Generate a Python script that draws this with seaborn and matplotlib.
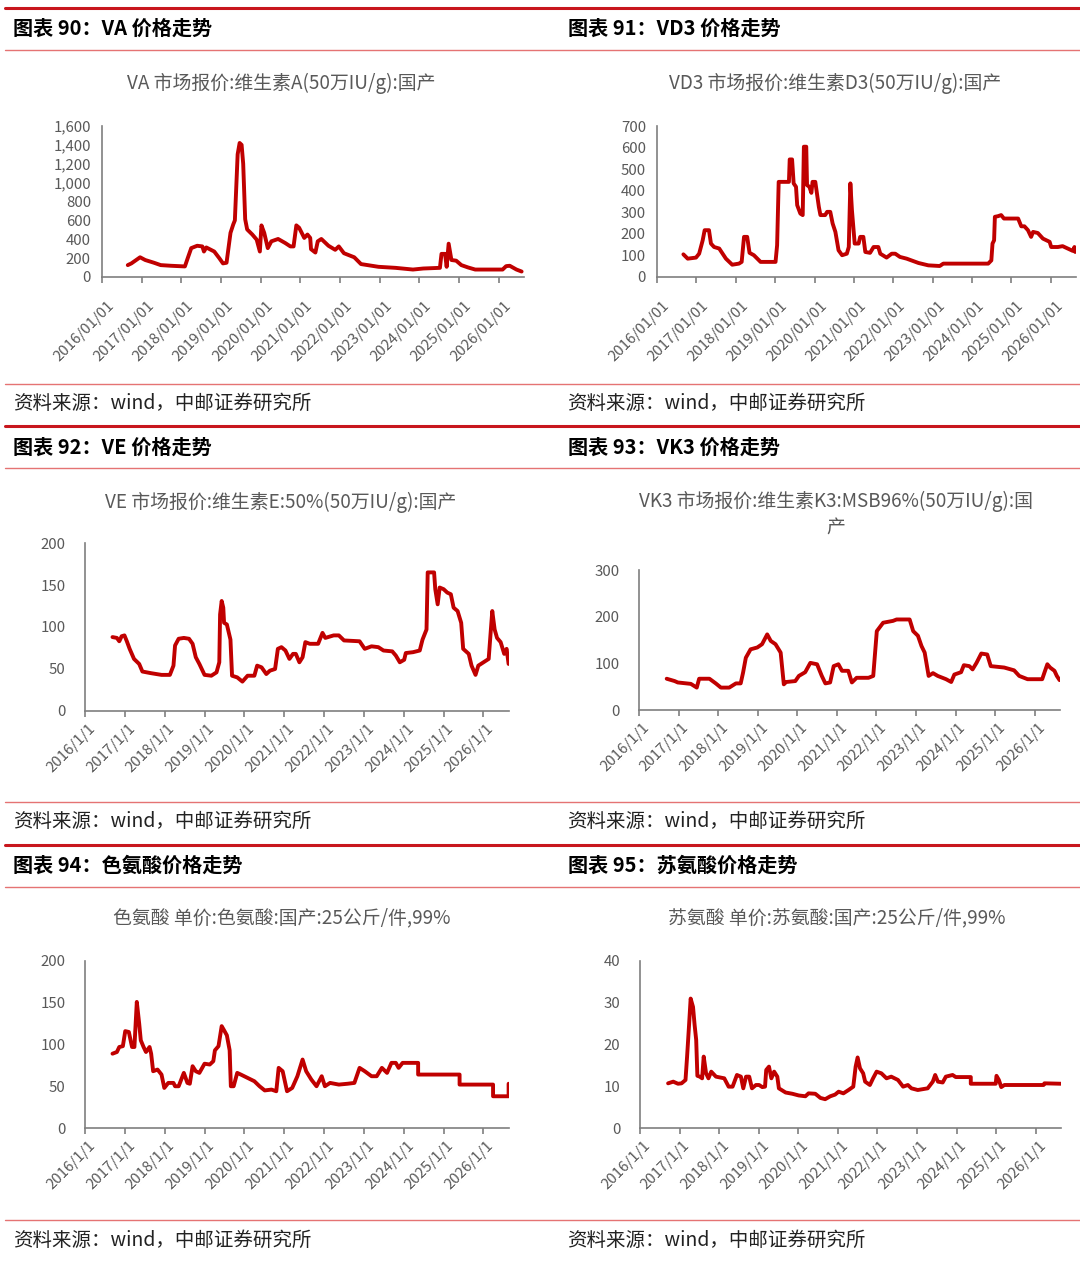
import numpy as np
import pandas as pd
import seaborn as sns
import matplotlib.pyplot as plt
import matplotlib.transforms as mtransforms
from matplotlib.lines import Line2D

sns.set_theme(style='white')
plt.rcParams['font.family'] = ['Noto Sans CJK SC', 'DejaVu Sans']
plt.rcParams['axes.unicode_minus'] = False

W, H = 1080, 1270
RED = '#C00000'
GREY = '#595959'
AXGREY = '#7F7F7F'

# ---- data (x in decimal years) ----
va_x = [2016.65, 2016.74, 2016.96, 2017.09, 2017.31, 2017.48, 2017.74, 2018.09, 2018.16, 2018.25,
        2018.40, 2018.53, 2018.57, 2018.63, 2018.83, 2018.96, 2019.05, 2019.14, 2019.24, 2019.31,
        2019.35, 2019.42, 2019.47, 2019.52, 2019.56, 2019.61, 2019.66, 2019.79, 2019.90, 2019.98,
        2020.02, 2020.09, 2020.18, 2020.27, 2020.44, 2020.62, 2020.75, 2020.83, 2020.90, 2020.97,
        2021.10, 2021.18, 2021.25, 2021.27, 2021.38, 2021.44, 2021.53, 2021.71, 2021.88, 2021.97,
        2022.10, 2022.36, 2022.53, 2022.97, 2023.40, 2023.84, 2024.10, 2024.52, 2024.56, 2024.65,
        2024.69, 2024.74, 2024.81, 2024.93, 2025.06, 2025.23, 2025.41, 2026.10, 2026.19, 2026.28,
        2026.45, 2026.58]
va_y = [126, 144, 209, 180, 151, 126, 119, 112, 198, 306,
        331, 324, 270, 313, 270, 198, 144, 151, 468, 558,
        600, 1300, 1420, 1400, 1200, 612, 504, 450, 396, 270,
        547, 468, 306, 378, 403, 360, 324, 324, 547, 522,
        414, 450, 414, 295, 259, 378, 403, 331, 288, 324,
        252, 209, 137, 108, 97, 79, 90, 97, 245, 245,
        108, 353, 180, 173, 126, 101, 79, 79, 115, 119,
        79, 58]

vd3_x = [2016.67, 2016.78, 2016.99, 2017.07, 2017.16, 2017.21, 2017.32, 2017.37, 2017.45, 2017.58,
         2017.75, 2017.91, 2018.08, 2018.15, 2018.21, 2018.29, 2018.35, 2018.46, 2018.63, 2019.01,
         2019.05, 2019.09, 2019.35, 2019.37, 2019.43, 2019.47, 2019.53, 2019.56, 2019.64, 2019.70,
         2019.73, 2019.79, 2019.81, 2019.87, 2019.92, 2019.95, 2020.02, 2020.11, 2020.15, 2020.27,
         2020.32, 2020.40, 2020.46, 2020.53, 2020.61, 2020.70, 2020.82, 2020.87, 2020.91, 2020.95,
         2021.02, 2021.12, 2021.16, 2021.24, 2021.29, 2021.41, 2021.50, 2021.62, 2021.67, 2021.83,
         2021.96, 2022.05, 2022.17, 2022.34, 2022.64, 2022.89, 2023.18, 2023.27, 2023.65, 2024.41,
         2024.49, 2024.52, 2024.56, 2024.58, 2024.66, 2024.74, 2024.81, 2025.17, 2025.25, 2025.33,
         2025.42, 2025.50, 2025.55, 2025.67, 2025.80, 2025.97, 2026.01, 2026.18, 2026.30, 2026.43,
         2026.56, 2026.60, 2026.62]
vd3_y = [105, 85, 90, 108, 170, 217, 217, 155, 139, 132,
         85, 57, 62, 70, 186, 186, 112, 101, 70, 70,
         147, 441, 441, 545, 545, 434, 418, 333, 294, 287,
         604, 604, 426, 418, 390, 441, 441, 325, 287, 287,
         302, 302, 248, 209, 124, 101, 108, 139, 434, 310,
         155, 155, 186, 186, 116, 112, 139, 139, 108, 90,
         108, 108, 93, 85, 65, 54, 51, 62, 62, 62,
         77, 155, 170, 279, 282, 287, 271, 271, 235, 235,
         217, 186, 209, 204, 178, 163, 139, 139, 143, 132,
         121, 139, 116]

ve_x = [2016.69, 2016.80, 2016.86, 2016.92, 2016.99, 2017.05, 2017.12, 2017.23, 2017.36, 2017.44,
        2017.66, 2017.92, 2018.13, 2018.22, 2018.26, 2018.35, 2018.48, 2018.61, 2018.70, 2018.78,
        2018.87, 2019.00, 2019.17, 2019.30, 2019.37, 2019.39, 2019.43, 2019.47, 2019.49, 2019.56,
        2019.65, 2019.69, 2019.82, 2019.95, 2020.08, 2020.25, 2020.32, 2020.43, 2020.55, 2020.64,
        2020.77, 2020.84, 2020.93, 2021.03, 2021.13, 2021.22, 2021.29, 2021.38, 2021.46, 2021.53,
        2021.64, 2021.85, 2021.96, 2022.03, 2022.24, 2022.37, 2022.50, 2022.89, 2023.02, 2023.19,
        2023.36, 2023.49, 2023.71, 2023.80, 2023.90, 2024.01, 2024.05, 2024.23, 2024.40, 2024.47,
        2024.57, 2024.60, 2024.76, 2024.79, 2024.85, 2024.90, 2025.00, 2025.09, 2025.18, 2025.25,
        2025.35, 2025.44, 2025.49, 2025.63, 2025.70, 2025.80, 2025.87, 2026.00, 2026.13, 2026.22,
        2026.28, 2026.34, 2026.43, 2026.52, 2026.58, 2026.63]
ve_y = [88, 87, 83, 89, 90, 83, 74, 62, 56, 47,
        45, 43, 43, 54, 78, 86, 87, 86, 80, 64,
        56, 43, 42, 46, 58, 115, 131, 123, 105, 103,
        85, 42, 40, 35, 42, 42, 54, 52, 44, 48,
        50, 74, 76, 72, 62, 68, 68, 58, 64, 82,
        80, 80, 93, 87, 90, 90, 84, 83, 74, 77,
        76, 72, 71, 66, 58, 61, 69, 70, 72, 85,
        97, 165, 165, 145, 127, 147, 145, 141, 139, 123,
        119, 105, 74, 68, 54, 43, 54, 58, 62, 119,
        97, 87, 82, 68, 74, 56]

vk3_x = [2016.70, 2016.90, 2016.98, 2017.31, 2017.46, 2017.52, 2017.78, 2017.94, 2018.07, 2018.28,
         2018.45, 2018.57, 2018.63, 2018.70, 2018.82, 2018.99, 2019.11, 2019.24, 2019.33, 2019.45,
         2019.58, 2019.66, 2019.72, 2019.95, 2020.04, 2020.20, 2020.33, 2020.50, 2020.62, 2020.71,
         2020.83, 2020.92, 2021.04, 2021.13, 2021.29, 2021.38, 2021.50, 2021.80, 2021.92, 2022.01,
         2022.17, 2022.42, 2022.51, 2022.84, 2022.93, 2023.05, 2023.14, 2023.22, 2023.32, 2023.43,
         2023.55, 2023.76, 2023.89, 2023.97, 2024.14, 2024.21, 2024.35, 2024.43, 2024.53, 2024.65,
         2024.80, 2024.89, 2025.23, 2025.48, 2025.61, 2025.82, 2026.19, 2026.25, 2026.32, 2026.39,
         2026.50, 2026.56, 2026.63]
vk3_y = [67, 62, 59, 56, 48, 67, 67, 57, 48, 48,
         57, 57, 80, 112, 130, 134, 141, 162, 148, 141,
         123, 55, 60, 62, 73, 81, 101, 98, 73, 57,
         59, 94, 98, 84, 84, 59, 69, 69, 73, 169,
         187, 191, 194, 194, 169, 159, 137, 123, 73, 79,
         73, 66, 60, 76, 81, 96, 94, 87, 101, 121,
         119, 94, 91, 85, 73, 66, 66, 81, 98, 91,
         84, 73, 64]

trp_x = [2016.69, 2016.80, 2016.86, 2016.95, 2017.01, 2017.10, 2017.18, 2017.24, 2017.30, 2017.36,
         2017.40, 2017.47, 2017.53, 2017.62, 2017.66, 2017.71, 2017.82, 2017.92, 2017.99, 2018.09,
         2018.22, 2018.26, 2018.35, 2018.48, 2018.57, 2018.63, 2018.70, 2018.78, 2018.87, 2019.00,
         2019.13, 2019.22, 2019.26, 2019.35, 2019.43, 2019.49, 2019.56, 2019.63, 2019.66, 2019.73,
         2019.82, 2019.91, 2020.08, 2020.25, 2020.38, 2020.51, 2020.68, 2020.80, 2020.86, 2020.96,
         2021.07, 2021.20, 2021.33, 2021.46, 2021.55, 2021.68, 2021.81, 2021.94, 2022.02, 2022.15,
         2022.37, 2022.59, 2022.76, 2022.89, 2023.02, 2023.19, 2023.32, 2023.45, 2023.58, 2023.69,
         2023.80, 2023.87, 2023.97, 2024.36, 2024.36, 2025.40, 2025.40, 2026.24, 2026.24, 2026.63,
         2026.63]
trp_y = [89, 91, 97, 98, 116, 115, 97, 97, 151, 125,
         105, 97, 91, 97, 89, 68, 70, 64, 48, 54,
         54, 50, 50, 66, 54, 53, 74, 68, 66, 77,
         76, 80, 93, 98, 122, 117, 111, 93, 50, 50,
         66, 64, 60, 56, 50, 45, 46, 44, 72, 68,
         44, 48, 62, 82, 68, 58, 50, 62, 50, 54,
         52, 53, 54, 72, 68, 62, 62, 72, 66, 78,
         78, 72, 78, 78, 64, 64, 52, 52, 38, 38,
         53]

thr_x = [2016.71, 2016.84, 2016.96, 2017.05, 2017.15, 2017.19, 2017.24, 2017.28, 2017.34, 2017.38,
         2017.42, 2017.45, 2017.51, 2017.57, 2017.61, 2017.67, 2017.73, 2017.80, 2017.92, 2018.13,
         2018.24, 2018.34, 2018.45, 2018.55, 2018.61, 2018.68, 2018.76, 2018.83, 2018.93, 2019.01,
         2019.09, 2019.16, 2019.19, 2019.26, 2019.32, 2019.39, 2019.47, 2019.51, 2019.68, 2019.85,
         2020.01, 2020.18, 2020.26, 2020.43, 2020.56, 2020.68, 2020.81, 2020.93, 2021.02, 2021.14,
         2021.27, 2021.39, 2021.45, 2021.50, 2021.56, 2021.64, 2021.69, 2021.81, 2021.89, 2021.98,
         2022.10, 2022.23, 2022.35, 2022.52, 2022.65, 2022.77, 2022.86, 2023.02, 2023.27, 2023.40,
         2023.46, 2023.53, 2023.65, 2023.73, 2023.90, 2023.98, 2024.36, 2024.36, 2024.99, 2025.01,
         2025.07, 2025.13, 2025.21, 2026.20, 2026.22, 2026.64]
thr_y = [10.7, 11.1, 10.6, 10.7, 11.5, 17.1, 24.7, 31.0, 29.0, 24.7,
         21.1, 12.5, 12.3, 11.9, 17.1, 13.1, 11.9, 13.5, 12.3, 11.9,
         9.9, 9.9, 12.7, 12.3, 9.5, 12.3, 12.3, 9.5, 10.3, 10.3,
         9.8, 9.9, 13.9, 14.7, 11.9, 13.5, 12.3, 9.5, 8.5, 8.2,
         7.8, 7.6, 8.3, 8.2, 7.2, 6.9, 7.6, 8.0, 8.7, 8.3,
         9.1, 9.9, 14.7, 16.9, 14.3, 13.1, 11.1, 10.3, 11.9, 13.5,
         13.1, 11.9, 12.3, 11.5, 9.9, 10.3, 9.5, 9.1, 9.5, 11.1,
         12.7, 11.1, 10.9, 12.3, 12.7, 12.2, 12.2, 10.6, 10.6, 12.5,
         11.5, 9.8, 10.3, 10.3, 10.7, 10.6]

years = list(range(2016, 2027))
xlab_long = [f'{y}/01/01' for y in years]
xlab_short = [f'{y}/1/1' for y in years]

headers = ['图表 90：VA 价格走势', '图表 91：VD3 价格走势',
           '图表 92：VE 价格走势', '图表 93：VK3 价格走势',
           '图表 94：色氨酸价格走势', '图表 95：苏氨酸价格走势']
titles = ['VA 市场报价:维生素A(50万IU/g):国产',
          'VD3 市场报价:维生素D3(50万IU/g):国产',
          'VE 市场报价:维生素E:50%(50万IU/g):国产',
          'VK3 市场报价:维生素K3:MSB96%(50万IU/g):国\n产',
          '色氨酸 单价:色氨酸:国产:25公斤/件,99%',
          '苏氨酸 单价:苏氨酸:国产:25公斤/件,99%']
source = '资料来源：wind，中邮证券研究所'

fig = plt.figure(figsize=(W / 100, H / 100), dpi=100)


def fy(y):
    return 1 - y / H


def hline(y, color, lw):
    fig.add_artist(Line2D([5 / W, 1.0], [fy(y), fy(y)], color=color, lw=lw))


def panel(box, x, y, ymax, ystep, xlabels, title, title_xy, ypad, xpad, dx, comma=False):
    l, t, r, b = box
    ax = fig.add_axes([l / W, fy(b), (r - l) / W, (b - t) / H])
    sns.lineplot(x=x, y=y, ax=ax, color=RED, linewidth=2.8,
                 estimator=None, sort=False)
    ax.set_xlim(2016, 2026.64)
    ax.set_ylim(0, ymax)
    yt = np.arange(0, ymax + ystep / 2, ystep)
    ax.set_yticks(yt)
    ax.set_yticklabels([f'{int(v):,}' if comma else f'{int(v)}' for v in yt])
    ax.set_xticks(years)
    ax.set_xticklabels(xlabels, rotation=45, ha='right', va='center',
                       rotation_mode='anchor')
    ax.set_xlabel('')
    ax.set_ylabel('')
    ax.grid(False)
    for s in ['top', 'right']:
        ax.spines[s].set_visible(False)
    for s in ['left', 'bottom']:
        ax.spines[s].set_color(AXGREY)
        ax.spines[s].set_linewidth(1.2)
    ax.tick_params(axis='y', length=0, pad=ypad, labelsize=10.8, labelcolor=GREY)
    ax.tick_params(axis='x', length=4, width=1.2, color=AXGREY, direction='out',
                   bottom=True, pad=xpad, labelsize=10.8, labelcolor=GREY)
    off = mtransforms.ScaledTranslation(dx / 100, 0, fig.dpi_scale_trans)
    for lab in ax.get_xticklabels():
        lab.set_transform(lab.get_transform() + off)
    ax.patch.set_alpha(0)
    fig.text(title_xy[0] / W, fy(title_xy[1]), title, ha='center', va='center',
             fontsize=13.6, color=GREY, linespacing=1.35)
    return ax


panel((102, 126, 524, 277), va_x, va_y, 1600, 200, xlab_long, titles[0], (281, 83), 8, 15, 10, comma=True)
panel((657, 126, 1076, 277), vd3_x, vd3_y, 700, 100, xlab_long, titles[1], (835, 83), 8, 15, 10)
panel((85, 543, 509, 711), ve_x, ve_y, 200, 50, xlab_short, titles[2], (281, 502), 14, 7, 8)
panel((639, 570, 1060, 710), vk3_x, vk3_y, 300, 100, xlab_short, titles[3], (836, 515), 14, 7, 8)
panel((85, 961, 509, 1128), trp_x, trp_y, 200, 50, xlab_short, titles[4], (282, 918), 14, 7, 8)
panel((640, 961, 1061, 1128), thr_x, thr_y, 40, 10, xlab_short, titles[5], (837, 918), 14, 7, 8)

# header / source bands
THICK = '#C8161D'
THIN = '#E57373'
header_rows = [(8, 28, 50), (426, 447, 468), (845, 865, 887)]
source_rows = [(384, 403), (802, 821), (1220, 1240)]
for i, (y_top, y_txt, y_bot) in enumerate(header_rows):
    hline(y_top, THICK, 2.2)
    hline(y_bot, THIN, 1.0)
    fig.text(13 / W, fy(y_txt), headers[2 * i], ha='left', va='center',
             fontsize=14.5, fontweight='bold', color='black')
    fig.text(568 / W, fy(y_txt), headers[2 * i + 1], ha='left', va='center',
             fontsize=14.5, fontweight='bold', color='black')
for y_line, y_txt in source_rows:
    hline(y_line, THIN, 1.0)
    fig.text(13 / W, fy(y_txt), source, ha='left', va='center', fontsize=14, color='#222222')
    fig.text(567 / W, fy(y_txt), source, ha='left', va='center', fontsize=14, color='#222222')

fig.savefig('out.png', dpi=100, facecolor='white')
